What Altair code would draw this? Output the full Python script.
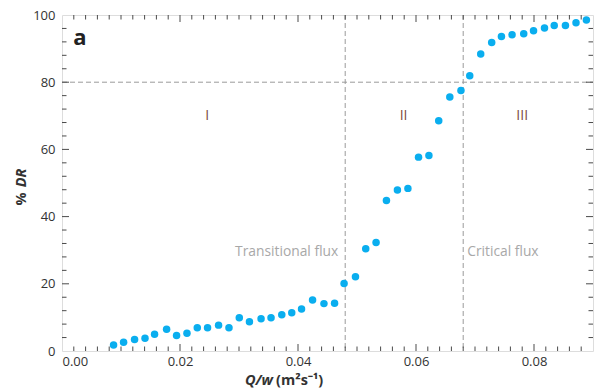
import altair as alt
import pandas as pd

# Flow rate per unit width (m^2 s^-1) and measured drag reduction (%)
flux = [0.00874, 0.01044, 0.01230, 0.01407, 0.01569, 0.01773, 0.01942, 0.02118,
        0.02293, 0.02467, 0.02654, 0.02830, 0.03005, 0.03177, 0.03374, 0.03543,
        0.03725, 0.03894, 0.04060, 0.04247, 0.04440, 0.04620, 0.04781, 0.04974,
        0.05148, 0.05323, 0.05499, 0.05685, 0.05863, 0.06043, 0.06219, 0.06385,
        0.06573, 0.06762, 0.06911, 0.07097, 0.07283, 0.07448, 0.07628, 0.07826,
        0.07992, 0.08178, 0.08343, 0.08533, 0.08712, 0.08888]
drag_reduction = [1.8, 2.6, 3.4, 3.8, 5.0, 6.5, 4.6, 5.3,
                  6.9, 6.9, 7.7, 6.9, 9.9, 8.7, 9.6, 9.9,
                  10.8, 11.4, 12.5, 15.2, 14.1, 14.2, 20.1, 22.1,
                  30.4, 32.3, 44.8, 47.9, 48.4, 57.7, 58.2, 68.5,
                  75.6, 77.5, 81.9, 88.4, 91.8, 93.6, 94.1, 94.4,
                  95.3, 96.1, 96.9, 96.9, 97.7, 98.5]

# Flow regimes
regime_names = ["I", "II", "III"]
regime_x = [0.0246, 0.0579, 0.0780]
regime_y = [70, 70, 70]

# Threshold fluxes and the 80 % level
transitional_flux = 0.048
critical_flux = 0.068
dr_level = 80

x_tick_labels = [0.00, 0.02, 0.04, 0.06, 0.08]
y_tick_labels = [0, 20, 40, 60, 80, 100]
x_minor_ticks = [round(i * 0.002, 3) for i in range(1, 45) if i % 10]
y_minor_ticks = [v for v in range(4, 100, 4) if v % 20]

W, H = 531, 336
FONT = "Open Sans"
FRAME = "#4a4a4a"
DASH = "#9a9a9a"

xs = alt.Scale(domain=[0, 0.09], nice=False, zero=False)
ys = alt.Scale(domain=[0, 100], nice=False, zero=False)

x_axis = alt.Axis(
    values=x_tick_labels, format=".2f", title=None, ticks=False, domain=False,
    grid=False, labelFlush=True, labelPadding=4, labelFontSize=13,
    labelColor="#333333", labelFont=FONT)
y_axis = alt.Axis(
    values=y_tick_labels, title=None, ticks=False, domain=False, grid=False,
    labelPadding=7, labelFontSize=13, labelColor="#333333", labelFont=FONT)


def X(field):
    return alt.X(f"{field}:Q", scale=xs, axis=x_axis)


def Y(field):
    return alt.Y(f"{field}:Q", scale=ys, axis=y_axis)


points_df = pd.DataFrame({"q": flux, "dr": drag_reduction})

points = alt.Chart(points_df).mark_circle(size=56, color="#0aaeef", opacity=1).encode(
    x=X("q"), y=Y("dr"))

# Dashed guide lines
vlines = alt.Chart(pd.DataFrame({"q": [transitional_flux, critical_flux]})).mark_rule(
    color=DASH, strokeDash=[5, 3], strokeWidth=1).encode(
    x=X("q"), y=alt.value(0), y2=alt.value(H))
hline = alt.Chart(pd.DataFrame({"dr": [dr_level]})).mark_rule(
    color=DASH, strokeDash=[5, 3], strokeWidth=1).encode(
    y=Y("dr"), x=alt.value(0), x2=alt.value(W))


def x_ticks(values, length):
    df = pd.DataFrame({"q": values})
    base = alt.Chart(df).mark_rule(color=FRAME, strokeWidth=1)
    bottom = base.encode(x=X("q"), y=alt.value(H), y2=alt.value(H - length))
    top = base.encode(x=X("q"), y=alt.value(0), y2=alt.value(length))
    return bottom + top


def y_ticks(values, length):
    df = pd.DataFrame({"dr": values})
    base = alt.Chart(df).mark_rule(color=FRAME, strokeWidth=1)
    left = base.encode(y=Y("dr"), x=alt.value(0), x2=alt.value(length))
    right = base.encode(y=Y("dr"), x=alt.value(W), x2=alt.value(W - length))
    return left + right


ticks = (x_ticks(x_tick_labels[1:], 7) + x_ticks(x_minor_ticks, 4.5)
         + y_ticks(y_tick_labels[1:-1], 7) + y_ticks(y_minor_ticks, 4.5))

regimes = alt.Chart(pd.DataFrame({"q": regime_x, "dr": regime_y, "name": regime_names})).mark_text(
    font=FONT, fontSize=14, color="#7d4a3c").encode(
    x=X("q"), y=Y("dr"), text="name:N")

trans_label = alt.Chart(pd.DataFrame({"q": [transitional_flux], "dr": [29.4], "t": ["Transitional flux"]})).mark_text(
    font=FONT, fontSize=13.8, color="#a8a8a8", align="right", dx=-7).encode(
    x=X("q"), y=Y("dr"), text="t:N")
crit_label = alt.Chart(pd.DataFrame({"q": [critical_flux], "dr": [29.4], "t": ["Critical flux"]})).mark_text(
    font=FONT, fontSize=13.8, color="#a8a8a8", align="left", dx=4).encode(
    x=X("q"), y=Y("dr"), text="t:N")

# Panel letter and axis titles (mixed upright / italic)
panel = alt.Chart(pd.DataFrame({"t": ["a"]})).mark_text(
    font=FONT, fontSize=22, fontWeight="bold", color="#222222", align="center",
    baseline="alphabetic").encode(x=alt.value(18), y=alt.value(30), text="t:N")

xt1 = alt.Chart(pd.DataFrame({"t": ["Q/w"]})).mark_text(
    font=FONT, fontSize=14.5, fontWeight="bold", fontStyle="italic", color="#333333",
    align="right", baseline="middle").encode(x=alt.value(211), y=alt.value(366), text="t:N")
xt2 = alt.Chart(pd.DataFrame({"t": ["(m²s⁻¹)"]})).mark_text(
    font=FONT, fontSize=14.5, fontWeight="bold", color="#333333",
    align="left", baseline="middle").encode(x=alt.value(214), y=alt.value(366), text="t:N")

yt1 = alt.Chart(pd.DataFrame({"t": ["%"]})).mark_text(
    font=FONT, fontSize=14.5, fontWeight="bold", color="#333333", angle=270,
    align="center", baseline="middle").encode(x=alt.value(-40), y=alt.value(184), text="t:N")
yt2 = alt.Chart(pd.DataFrame({"t": ["DR"]})).mark_text(
    font=FONT, fontSize=14.5, fontWeight="bold", fontStyle="italic", color="#333333", angle=270,
    align="center", baseline="middle").encode(x=alt.value(-40), y=alt.value(163), text="t:N")

chart = alt.layer(
    vlines, hline, ticks, regimes, trans_label, crit_label, points,
    panel, xt1, xt2, yt1, yt2,
).properties(
    width=W, height=H,
    autosize=alt.AutoSizeParams(type="none"),
    padding={"left": 62, "top": 15, "right": 2, "bottom": 41},
).configure_view(
    stroke=FRAME, strokeWidth=1.5,
).configure(background="white")

chart.save("out.html", embed_options={"renderer": "svg", "actions": False})
